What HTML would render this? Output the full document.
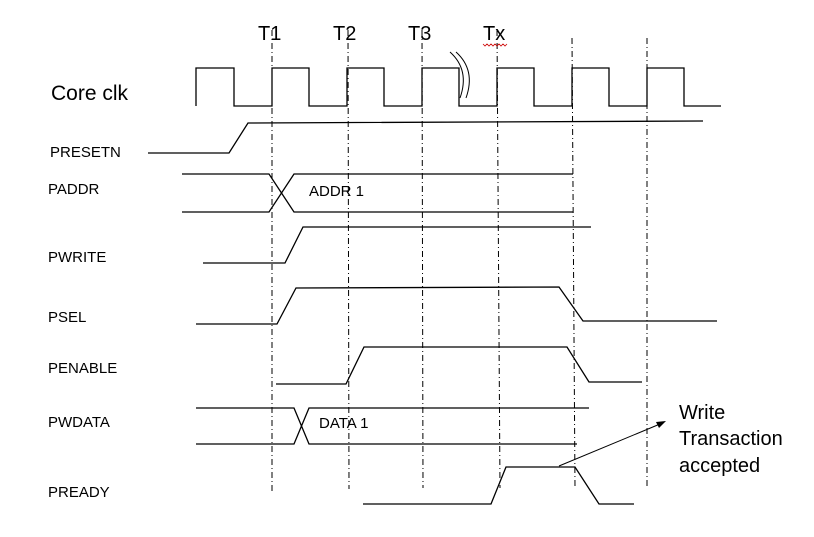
<!DOCTYPE html>
<html><head><meta charset="utf-8"><style>
body{margin:0;background:#fff;}
svg{display:block;font-family:"Liberation Sans",Arial,sans-serif;}
</style></head><body>
<svg width="814" height="537" viewBox="0 0 814 537" xmlns="http://www.w3.org/2000/svg">
<g stroke="#000" stroke-width="1" stroke-dasharray="6,3,1,3" fill="none">
<line x1="272" y1="30" x2="272" y2="494"/>
<line x1="348" y1="30" x2="349" y2="489"/>
<line x1="422" y1="30" x2="423" y2="488"/>
<line x1="497" y1="30" x2="500" y2="488"/>
<line x1="572" y1="38" x2="575" y2="488"/>
<line x1="647" y1="38" x2="647" y2="487"/>
</g>
<g stroke="#000" stroke-width="1.3" fill="none">
<polyline points="196,106 196,68 234,68 234,106 272,106 272,68 309,68 309,106 347,106 347,68 384,68 384,106 422,106 422,68 459,68 459,106 497,106 497,68 534,68 534,106 572,106 572,68 609,68 609,106 647,106 647,68 684,68 684,106 721,106"/>
<path d="M450,52 Q470,70 460,98 M456,52 Q476,70 466,98" stroke-width="1"/>
<polyline points="148,153 229,153 248,123 703,121"/>
<polyline points="182,174 269,174 294,212 573,212"/>
<polyline points="182,212 269,212 294,174 573,174"/>
<polyline points="203,263 285,263 303,227 591,227"/>
<polyline points="196,324 277,324 296,288 559,287 583,321 717,321"/>
<polyline points="276,384 346,384 364,347 567,347 589,382 642,382"/>
<polyline points="196,408 294,408 309,444 577,444"/>
<polyline points="196,444 294,444 309,408 589,408"/>
<polyline points="363,504 491,504 506,467 575,467 599,504 634,504"/>
<line x1="559" y1="466" x2="660" y2="424" stroke-width="1"/>
</g>
<polygon points="666,421 656,422 659,428" fill="#000"/>
<g fill="#000">
<text x="258" y="40" font-size="20">T1</text>
<text x="333" y="40" font-size="20">T2</text>
<text x="408" y="40" font-size="20">T3</text>
<text x="483" y="40" font-size="20">Tx</text>
<path d="M483,44 l2,2 l2,-2 l2,2 l2,-2 l2,2 l2,-2 l2,2 l2,-2 l2,2 l2,-2 l2,2 l2,-2" stroke="#c00" fill="none" stroke-width="0.8"/>
<text x="51" y="100" font-size="21">Core clk</text>
<text x="50" y="157" font-size="15">PRESETN</text>
<text x="48" y="194" font-size="15">PADDR</text>
<text x="48" y="262" font-size="15">PWRITE</text>
<text x="48" y="322" font-size="15">PSEL</text>
<text x="48" y="373" font-size="15">PENABLE</text>
<text x="48" y="427" font-size="15">PWDATA</text>
<text x="48" y="497" font-size="15">PREADY</text>
<text x="309" y="196" font-size="15">ADDR 1</text>
<text x="319" y="428" font-size="15">DATA 1</text>
<text x="679" y="419" font-size="20">Write</text>
<text x="679" y="445" font-size="20">Transaction</text>
<text x="679" y="472" font-size="20">accepted</text>
</g>
</svg>
</body></html>
